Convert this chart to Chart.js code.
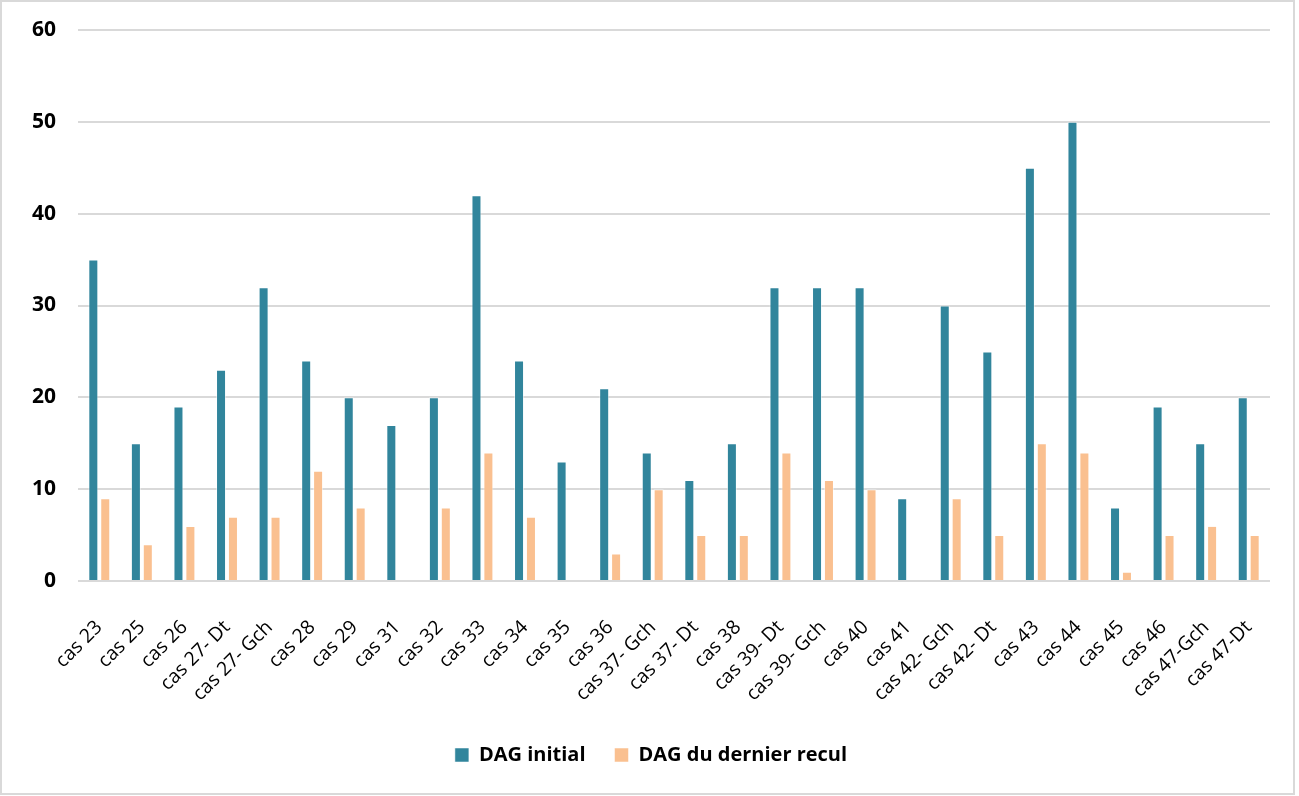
<!DOCTYPE html>
<html><head><meta charset="utf-8">
<script src="https://cdn.jsdelivr.net/npm/chart.js@4"></script>
<style>
html,body{margin:0;padding:0;background:#fff;}
#wrap{position:absolute;left:0;top:0;width:1295px;height:795px;border:2px solid #d9d9d9;box-sizing:border-box;}
canvas{display:block;}
</style></head>
<body><div id="wrap"><canvas id="c" width="1291" height="791"></canvas></div>
<script>
const categories = ["cas 23","cas 25","cas 26","cas 27- Dt","cas 27- Gch","cas 28","cas 29","cas 31","cas 32","cas 33","cas 34","cas 35","cas 36","cas 37- Gch","cas 37- Dt","cas 38","cas 39- Dt","cas 39- Gch","cas 40","cas 41","cas 42- Gch","cas 42- Dt","cas 43","cas 44","cas 45","cas 46","cas 47-Gch","cas 47-Dt"];
const dagInitial = [35,15,19,23,32,24,20,17,20,42,24,13,21,14,11,15,32,32,32,9,30,25,45,50,8,19,15,20];
const dagRecul   = [9,4,6,7,7,12,8,null,8,14,7,null,3,10,5,5,14,11,10,null,9,5,15,14,1,5,6,5];
const yTicks = [0,10,20,30,40,50,60];
const seriesNames = ["DAG initial","DAG du dernier recul"];

const FONT = "'Open Sans', sans-serif";
const shiftLegend = {
  id:'shiftLegend',
  afterLayout(chart){ const l = chart.legend; if(l){ l.left += 10; l.right += 10; } }
};
new Chart(document.getElementById('c'), {
  type: 'bar',
  data: {
    labels: categories,
    datasets: [
      {label: seriesNames[0], data: dagInitial, backgroundColor:'#31859C', borderColor:'rgba(255,255,255,0.5)', borderWidth:1, categoryPercentage:0.56, barPercentage:0.84},
      {label: seriesNames[1], data: dagRecul, backgroundColor:'#FAC090', borderColor:'rgba(255,255,255,0.5)', borderWidth:1, categoryPercentage:0.56, barPercentage:0.84}
    ]
  },
  options: {
    responsive:false, animation:false,
    layout:{padding:{left:10,right:23,top:28,bottom:18}},
    plugins:{
      legend:{position:'bottom', labels:{font:{family:FONT,size:20,weight:'bold'}, color:'#000', boxWidth:14, boxHeight:14, padding:29}},
      tooltip:{enabled:false}
    },
    scales:{
      x:{
        grid:{display:false}, border:{display:false},
        afterFit: s => { s.height = 135; s.paddingLeft = 0; s.paddingRight = 0; },
        ticks:{font:{family:FONT,size:19.5}, color:'#000', maxRotation:45, minRotation:45, autoSkip:false, padding:27}
      },
      y:{
        min:0, max:60,
        afterBuildTicks: s => { s.ticks = yTicks.map(v=>({value:v})); },
        afterFit: s => { s.width = 66; s.paddingTop = 0; s.paddingBottom = 0; },
        grid:{color:'#d9d9d9', lineWidth:2, drawTicks:false},
        border:{display:false},
        ticks:{font:{family:FONT,size:21,weight:'bold'}, color:'#000', padding:22}
      }
    }
  },
  plugins:[shiftLegend]
});
</script></body></html>
